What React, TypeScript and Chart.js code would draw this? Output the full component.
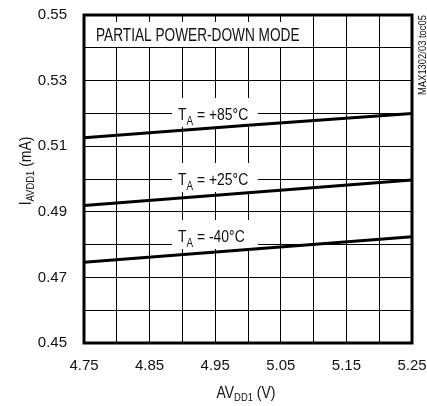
import React, { useEffect, useRef } from "react";
import { Chart, registerables } from "chart.js";

Chart.register(...registerables);

const VOLTAGE = [4.75, 5.0, 5.25];
const I_85C = [0.5126, 0.5164, 0.52];
const I_25C = [0.4919, 0.4958, 0.4997];
const I_M40C = [0.4746, 0.4785, 0.4824];

const X_MIN = 4.75;
const X_MAX = 5.25;
const X_STEP = 0.05;
const Y_MIN = 0.45;
const Y_MAX = 0.55;
const Y_STEP = 0.01;

const TITLE = "PARTIAL POWER-DOWN MODE";
const NOTE = "MAX1302/03 toc05";
const LABELS = ["+85°C", "+25°C", "-40°C"];

const FONT = '"Liberation Sans", Arial, Helvetica, sans-serif';
const INK = "#111";

type Part = { t: string; size: number; dy: number };

function richWidth(ctx: CanvasRenderingContext2D, parts: Part[]) {
  let w = 0;
  for (const p of parts) {
    ctx.font = `${p.size}px ${FONT}`;
    w += ctx.measureText(p.t).width;
  }
  return w;
}

function drawRich(
  ctx: CanvasRenderingContext2D,
  parts: Part[],
  x: number,
  y: number,
  align: "left" | "center",
  sx: number
) {
  const w = richWidth(ctx, parts);
  ctx.save();
  ctx.translate(x, y);
  ctx.scale(sx, 1);
  let cx = align === "center" ? -w / 2 : 0;
  ctx.textAlign = "left";
  ctx.textBaseline = "alphabetic";
  ctx.fillStyle = INK;
  for (const p of parts) {
    ctx.font = `${p.size}px ${FONT}`;
    ctx.fillText(p.t, cx, p.dy);
    cx += ctx.measureText(p.t).width;
  }
  ctx.restore();
  return w * sx;
}

const decorPlugin = {
  id: "decor",
  beforeDatasetsDraw(chart: any) {
    const ctx: CanvasRenderingContext2D = chart.ctx;
    const a = chart.chartArea;
    ctx.save();
    // title box
    ctx.fillStyle = "#fff";
    ctx.fillRect(a.left + 5, a.top + 7, 219, 25);
    drawRich(ctx, [{ t: TITLE, size: 17.5, dy: 0 }], a.left + 12, a.top + 26, "left", 0.78);
    // temperature labels
    const baselines = [120, 185, 242];
    LABELS.forEach((lab, i) => {
      const by = baselines[i];
      const x0 = 178;
      ctx.fillStyle = "#fff";
      ctx.fillRect(x0 - 6, by - 22, 86, 29);
      drawRich(
        ctx,
        [
          { t: "T", size: 17, dy: 0 },
          { t: "A", size: 12, dy: 5 },
          { t: " = " + lab, size: 17, dy: 0 },
        ],
        x0,
        by,
        "left",
        0.82
      );
    });
    ctx.restore();
  },
  afterDraw(chart: any) {
    const ctx: CanvasRenderingContext2D = chart.ctx;
    const a = chart.chartArea;
    ctx.save();
    ctx.strokeStyle = "#000";
    ctx.lineWidth = 3;
    ctx.strokeRect(a.left, a.top, a.right - a.left, a.bottom - a.top);
    // axis titles
    drawRich(
      ctx,
      [
        { t: "AV", size: 17, dy: 0 },
        { t: "DD1", size: 11.5, dy: 3 },
        { t: " (V)", size: 17, dy: 0 },
      ],
      (a.left + a.right) / 2 - 2,
      398,
      "center",
      0.82
    );
    ctx.save();
    ctx.translate(31, 171);
    ctx.rotate(-Math.PI / 2);
    drawRich(
      ctx,
      [
        { t: "I", size: 17, dy: 0 },
        { t: "AVDD1", size: 11.5, dy: 3 },
        { t: " (mA)", size: 17, dy: 0 },
      ],
      0,
      0,
      "center",
      0.82
    );
    ctx.restore();
    ctx.save();
    ctx.translate(426, 55);
    ctx.rotate(-Math.PI / 2);
    drawRich(ctx, [{ t: NOTE, size: 10, dy: 0 }], 0, 0, "center", 0.94);
    ctx.restore();
    ctx.restore();
  },
};

export default function App() {
  const ref = useRef<HTMLCanvasElement>(null);
  useEffect(() => {
    if (!ref.current) return;
    const ds = (data: number[]) => ({
      data: VOLTAGE.map((v, i) => ({ x: v, y: data[i] })),
      borderColor: "#000",
      borderWidth: 3,
      pointRadius: 0,
      fill: false,
      tension: 0,
    });
    const chart = new Chart(ref.current, {
      type: "line",
      data: { datasets: [ds(I_85C), ds(I_25C), ds(I_M40C)] },
      options: {
        responsive: false,
        animation: false,
        events: [],
        layout: { padding: { left: 0, top: 15, right: 15, bottom: 0 } },
        plugins: { legend: { display: false }, tooltip: { enabled: false } },
        scales: {
          x: {
            type: "linear",
            min: X_MIN,
            max: X_MAX,
            afterFit: (s: any) => {
              s.height = 63;
              s.paddingLeft = 0;
              s.paddingRight = 0;
            },
            ticks: {
              stepSize: X_STEP,
              autoSkip: false,
              maxRotation: 0,
              padding: 14,
              color: INK,
              font: { family: FONT, size: 15 },
              callback: (v: any, i: number) => (i % 2 === 0 ? Number(v).toFixed(2) : ""),
            },
            grid: { color: "#000", lineWidth: 1, drawTicks: false },
            border: { display: false },
          },
          y: {
            min: Y_MIN,
            max: Y_MAX,
            afterFit: (s: any) => {
              s.width = 84;
              s.paddingTop = 0;
              s.paddingBottom = 0;
            },
            ticks: {
              stepSize: Y_STEP,
              autoSkip: false,
              padding: 17,
              color: INK,
              font: { family: FONT, size: 15 },
              callback: (v: any, i: number) => (i % 2 === 0 ? Number(v).toFixed(2) : ""),
            },
            grid: { color: "#000", lineWidth: 1, drawTicks: false },
            border: { display: false },
          },
        },
      },
      plugins: [decorPlugin],
    } as any);
    return () => chart.destroy();
  }, []);
  return (
    <div style={{ position: "absolute", left: 0, top: 0, width: 427, height: 406, background: "#fff" }}>
      <canvas ref={ref} width={427} height={406} />
    </div>
  );
}
